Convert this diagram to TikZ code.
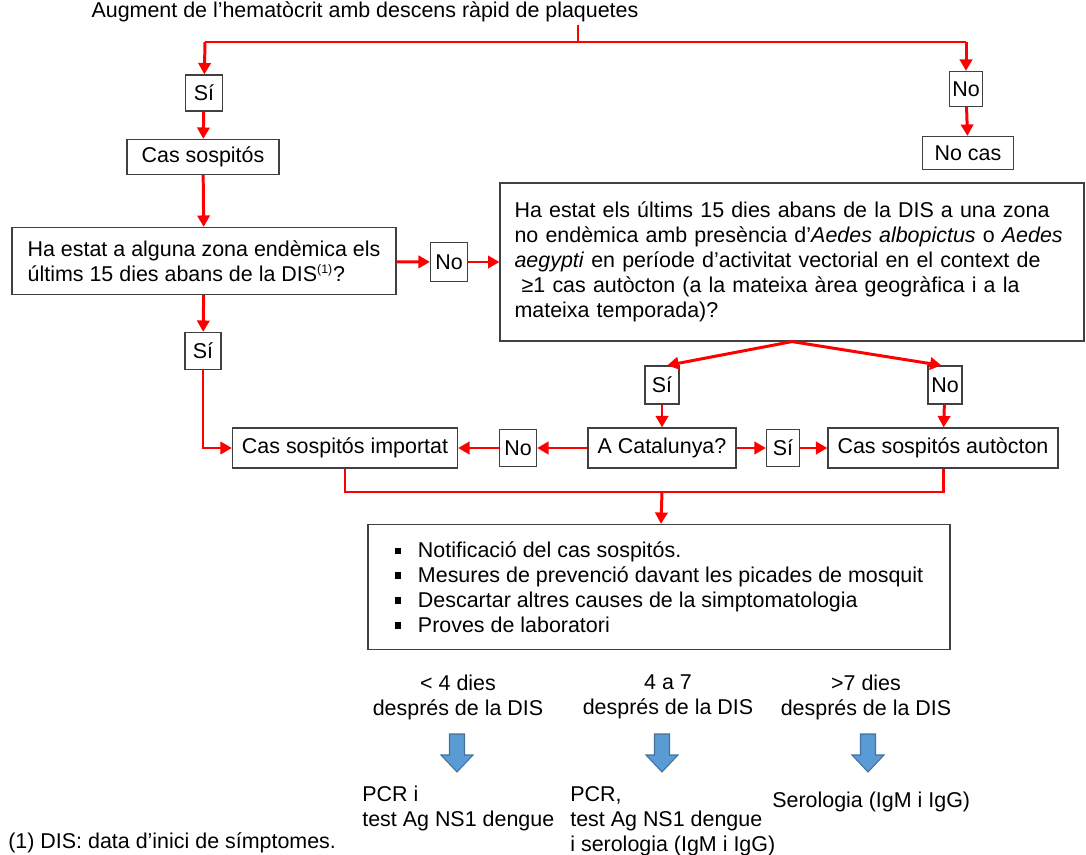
\documentclass[tikz,border=0pt]{standalone}
\usepackage{fontspec}
\setmainfont{Liberation Sans}
\usetikzlibrary{arrows.meta}
\definecolor{blau}{RGB}{91,155,213}
\definecolor{blaufosc}{RGB}{65,113,156}
\newcommand{\bala}{\rule[1.8pt]{3.8pt}{3.8pt}\hspace{0.33cm}}

\begin{document}
\begin{tikzpicture}[x=0.02cm, y=-0.02cm, font=\fontsize{12.2}{14.2}\selectfont, line join=miter, >={Triangle[length=6.5pt,width=7pt]},
	caixa/.style={draw=black!75, line width=0.7pt, fill=white, inner sep=0pt, align=center},
	fletxa/.style={draw=red, line width=1.7pt, ->},
	linia/.style={draw=red, line width=1.7pt},
	fletxablava/.style={fill=blau, draw=blaufosc, line width=0.6pt}]
	\useasboundingbox (0,0) rectangle (1086,855);
	\node[anchor=base] (inici) at (365,18) {Augment de l’hematòcrit amb descens ràpid de plaquetes};
	\coordinate (bifT) at (578,25);
	\coordinate (bif) at (578,42);
	\coordinate (bifE) at (205,42);
	\coordinate (bifD) at (966,42);
	% primer nivell
	\node[caixa, minimum width=0.74cm, minimum height=0.72cm] (si1) at (204,93) {Sí};
	\node[caixa, minimum width=0.66cm, minimum height=0.70cm] (no1) at (966,89) {No};
	\node[caixa, minimum width=3.04cm, minimum height=0.70cm] (sospitos) at (203,157) {Cas sospitós};
	\node[caixa, minimum width=1.82cm, minimum height=0.66cm] (nocas) at (968,153) {No cas};
	% preguntes
	\node[caixa, minimum width=7.68cm, minimum height=1.34cm, align=left] (preg1) at (204,261)
		{Ha estat a alguna zona endèmica els\\últims 15 dies abans de la DIS\textsuperscript{\scriptsize (1)}?};
	\node[caixa, minimum width=0.74cm, minimum height=0.78cm] (no2) at (449,262) {No};
	\node[caixa, minimum width=11.68cm, minimum height=3.16cm, text width=11.1cm, align=left] (preg2) at (792,262)
		{Ha estat els últims 15 dies abans de la DIS a una zona\\
		no endèmica amb presència d’\textit{Aedes albopictus} o \textit{Aedes}\\
		\textit{aegypti} en període d’activitat vectorial en el context de\\
		\ ≥1 cas autòcton (a la mateixa àrea geogràfica i a la\\
		mateixa temporada)?};
	\node[caixa, minimum width=0.72cm, minimum height=0.74cm] (si2) at (203,351) {Sí};
	\node[caixa, minimum width=0.68cm, minimum height=0.76cm] (si3) at (662,385) {Sí};
	\node[caixa, minimum width=0.68cm, minimum height=0.76cm] (no3) at (945,385) {No};
	% casos
	\node[caixa, minimum width=4.5cm, minimum height=0.8cm] (importat) at (345,448) {Cas sospitós importat};
	\node[caixa, minimum width=0.74cm, minimum height=0.74cm] (no4) at (518,448) {No};
	\node[caixa, minimum width=2.96cm, minimum height=0.8cm] (catalunya) at (662,448) {A Catalunya?};
	\node[caixa, minimum width=0.66cm, minimum height=0.74cm] (si4) at (783,448) {Sí};
	\node[caixa, minimum width=4.6cm, minimum height=0.8cm] (autocton) at (943,448) {Cas sospitós autòcton};
	\coordinate (uneix) at (662,492);
	\node[caixa, minimum width=11.64cm, minimum height=2.5cm, align=left] (mesures) at (659,587)
		{\bala Notificació del cas sospitós.\\
		\bala Mesures de prevenció davant les picades de mosquit\\
		\bala Descartar altres causes de la simptomatologia\\
		\bala Proves de laboratori};
	% connectors
	\draw[linia] (bifT) -- (bif);
	\draw[linia] (bifE) -- (bifD);
	\draw[fletxa] (bifE) -- (si1);
	\draw[fletxa] (bifD) -- (no1);
	\draw[fletxa] (si1) -- (sospitos);
	\draw[fletxa] (no1) -- (nocas);
	\draw[fletxa] (sospitos) -- (preg1);
	\draw[fletxa] (preg1) -- (no2);
	\draw[fletxa] (no2) -- (preg2);
	\draw[fletxa] (preg1) -- (si2);
	\draw[fletxa] (si2) |- (importat);
	\draw[fletxa] (preg2.south) -- ([xshift=3pt]si3.north);
	\draw[fletxa] (preg2.south) -- ([xshift=-2pt]no3.north);
	\draw[fletxa] (si3) -- (catalunya);
	\draw[fletxa] (no3) -- (autocton);
	\draw[fletxa] (catalunya) -- (no4);
	\draw[fletxa] (no4) -- (importat);
	\draw[fletxa] (catalunya) -- (si4);
	\draw[fletxa] (si4) -- (autocton);
	\draw[linia] (importat.south) |- (uneix) -| (autocton.south);
	\draw[fletxa] (uneix) -- (mesures);
	% proves segons el temps
	\node[align=center] (dies1) at (458,697) {< 4 dies\\després de la DIS};
	\node[align=center] (dies2) at (668,697) {4 a 7\\després de la DIS};
	\node[align=center] (dies3) at (866,697) {>7 dies\\després de la DIS};
	\foreach \x in {457,662,868}
		\filldraw[fletxablava] (\x-7.5,734) -- (\x+7.5,734) -- (\x+7.5,755) -- (\x+16,755) -- (\x,772) -- (\x-16,755) -- (\x-7.5,755) -- cycle;
	\node[anchor=north west, align=left, inner sep=0pt] (prova1) at (362,786) {PCR i\\test Ag NS1 dengue};
	\node[anchor=north west, align=left, inner sep=0pt] (prova2) at (570,786) {PCR,\\test Ag NS1 dengue\\i serologia (IgM i IgG)};
	\node[anchor=west, inner sep=0pt] (prova3) at (772,802) {Serologia (IgM i IgG)};
	\node[anchor=west, inner sep=0pt] (nota) at (8,843) {(1) DIS: data d’inici de símptomes.};
\end{tikzpicture}
\end{document}
